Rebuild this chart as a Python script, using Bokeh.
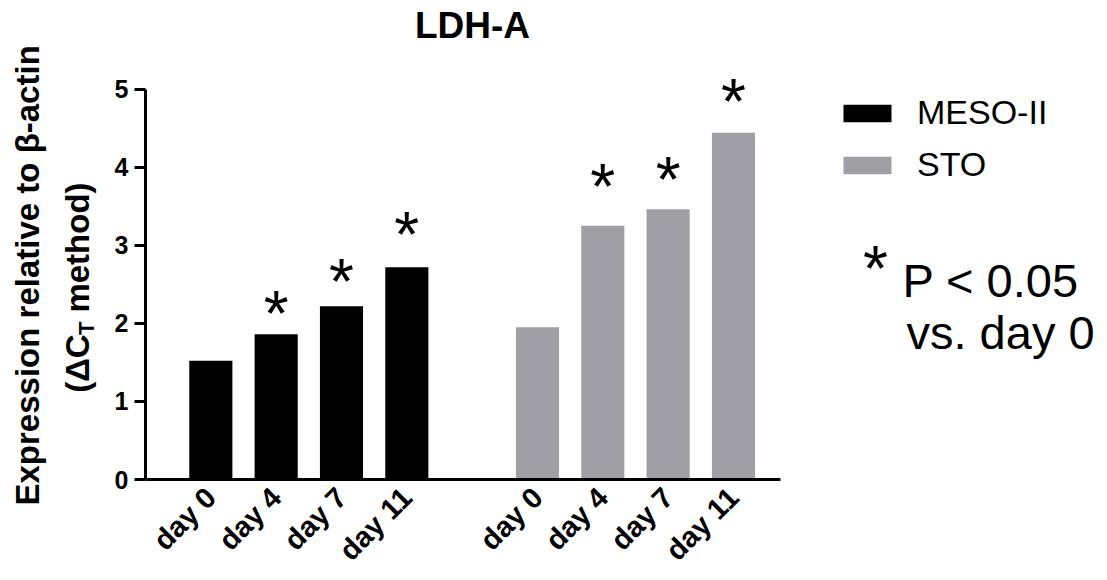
import math
from bokeh.plotting import figure
from bokeh.layouts import row
from bokeh.models import Label, FixedTicker, Legend, LegendItem, ColumnDataSource, Range1d, Title
from bokeh.core.properties import value
from bokeh.embed import file_html
from bokeh.resources import INLINE

# ---- data ----
categories = ["day 0", "day 4", "day 7", "day 11"]
groups = ["MESO-II", "STO"]
meso_values = [1.52, 1.86, 2.22, 2.72]
sto_values = [1.95, 3.25, 3.46, 4.44]
meso_star_y = [None, 2.23, 2.64, 3.25]
sto_star_y = [None, 3.86, 3.95, 4.95]
y_ticks = [0, 1, 2, 3, 4, 5]

# ---- layout helpers (page pixels -> data) ----
W, H = 1107, 580
LEFT_W = 108
LF_BORDER = 50
X0, PXX = 145.0, 65.33
Y0, PXY = 481.0, 78.4
def dx(px):
    return (px - X0) / PXX
def dy(py):
    return (Y0 - py) / PXY

meso_x = [i + 1 for i in range(len(categories))]
sto_x = [i + 2 + len(categories) for i in range(len(categories))]

FONT = "Liberation Sans"
STAR_SIZE = "64px"
STAR_OFF = 9

# ---- left strip for the y-axis title (data units = page pixels) ----
lf = figure(width=LEFT_W, height=H, output_backend="svg", toolbar_location=None,
            x_range=Range1d(LF_BORDER, LEFT_W), y_range=Range1d(Y0, 0),
            x_axis_location=None, y_axis_location=None,
            min_border_left=LF_BORDER, min_border_right=0, min_border_top=0,
            min_border_bottom=H - int(Y0))
lf.outline_line_color = None
lf.xgrid.visible = False
lf.ygrid.visible = False
lf.add_layout(Title(text="Expression relative to β-actin", align="left", offset=Y0 - 507,
                    text_font=FONT, text_font_style="bold", text_font_size="33px",
                    text_color="black"), "left")
yl = dict(angle=math.pi / 2, text_font=FONT, text_font_style="bold", text_color="black",
          text_baseline="middle", text_align="left")
lf.add_layout(Label(x=76.6, y=394, text="(ΔC", text_font_size="33px", **yl))
lf.add_layout(Label(x=86.4, y=336, text="T", text_font_size="22px", **yl))
lf.add_layout(Label(x=76.6, y=313.4, text="method)", text_font_size="33px", **yl))

# ---- main chart ----
p = figure(width=W - LEFT_W, height=H, output_backend="svg", toolbar_location=None,
           x_range=Range1d(0, dx(W)), y_range=Range1d(0, dy(0)),
           min_border_left=int(X0) - LEFT_W, min_border_bottom=H - int(Y0),
           min_border_top=0, min_border_right=0)
p.outline_line_color = None
p.xgrid.visible = False
p.ygrid.visible = False
p.background_fill_color = "white"

src_m = ColumnDataSource(dict(x=meso_x, top=meso_values))
src_s = ColumnDataSource(dict(x=sto_x, top=sto_values))
r_m = p.vbar(x="x", top="top", width=0.66, bottom=0, source=src_m,
             fill_color="#000000", line_color=None)
r_s = p.vbar(x="x", top="top", width=0.66, bottom=0, source=src_s,
             fill_color="#a09fa5", line_color=None)

# asterisks
sx, sy = [], []
for xs, ys in ((meso_x, meso_star_y), (sto_x, sto_star_y)):
    for a, b in zip(xs, ys):
        if b is not None:
            sx.append(a); sy.append(b)
p.text(x=sx, y=sy, text=["*"] * len(sx), text_font=value(FONT), text_font_size=STAR_SIZE,
       text_align="center", text_baseline="middle", y_offset=STAR_OFF, text_color="black")

# axes
xa = p.xaxis[0]
xa.bounds = (0, dx(780))
xa.ticker = FixedTicker(ticks=meso_x + sto_x)
xa.major_label_overrides = {k: v for k, v in zip(meso_x + sto_x, categories + categories)}
xa.major_tick_line_color = None
xa.major_tick_out = 0
xa.major_tick_in = 0
xa.minor_tick_line_color = None
xa.major_label_orientation = math.pi / 4
xa.major_label_standoff = 13
xa.major_label_text_font = FONT
xa.major_label_text_font_style = "bold"
xa.major_label_text_font_size = "29px"
xa.major_label_text_color = "black"
xa.axis_line_width = 3
xa.axis_line_color = "black"

ya = p.yaxis[0]
ya.bounds = (0, 5)
ya.ticker = FixedTicker(ticks=y_ticks)
ya.minor_tick_line_color = None
ya.major_tick_out = 11
ya.major_tick_in = 0
ya.major_tick_line_width = 3
ya.axis_line_width = 3
ya.axis_line_color = "black"
ya.major_tick_line_color = "black"
ya.major_label_text_font = FONT
ya.major_label_text_font_style = "bold"
ya.major_label_text_font_size = "25px"
ya.major_label_text_color = "black"
ya.major_label_standoff = 6

# title
p.add_layout(Label(x=dx(472), y=dy(25), text="LDH-A", text_font=FONT, text_font_style="bold",
                   text_font_size="37px", text_align="center", text_baseline="middle",
                   text_color="black"))

# legend
legend = Legend(items=[LegendItem(label=groups[0], renderers=[r_m]),
                       LegendItem(label=groups[1], renderers=[r_s])],
                location=(692, 295), orientation="vertical", padding=0, margin=0,
                spacing=13, glyph_width=60, glyph_height=22, label_standoff=20,
                label_text_font=FONT, label_text_font_size="34px", label_text_color="black",
                border_line_color=None, background_fill_alpha=0)
p.add_layout(legend)

# significance note
p.text(x=[dx(875)], y=[dy(261)], text=["*"], text_font=value(FONT), text_font_size=STAR_SIZE,
       text_align="center", text_baseline="middle", y_offset=STAR_OFF, text_color="black")
p.add_layout(Label(x=dx(902), y=dy(281), text="P < 0.05", text_font=FONT, text_color="black",
                   text_font_size="47px", text_align="left", text_baseline="middle"))
p.add_layout(Label(x=dx(906), y=dy(333), text="vs. day 0", text_font=FONT, text_color="black",
                   text_font_size="47px", text_align="left", text_baseline="middle"))

open("out.html", "w").write(file_html(row(lf, p), INLINE))
